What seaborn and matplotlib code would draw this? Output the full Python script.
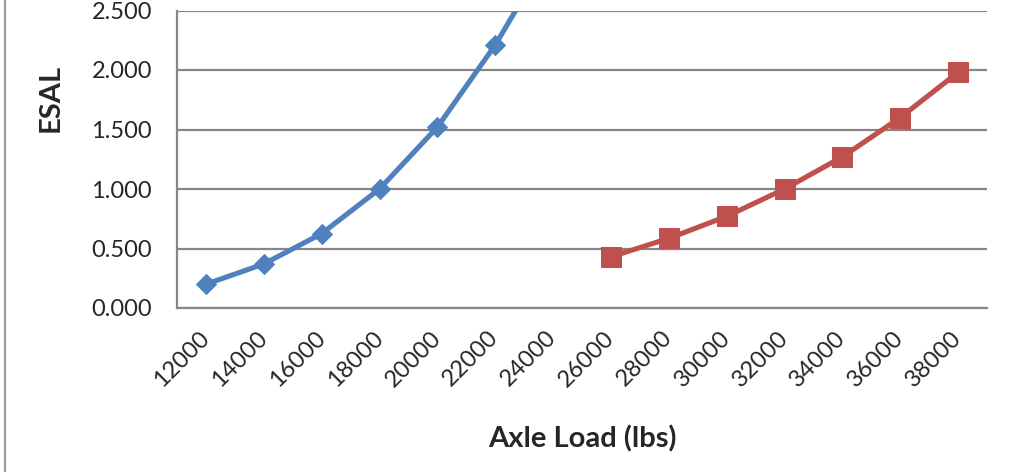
import matplotlib
matplotlib.use("Agg")
import matplotlib.pyplot as plt
from matplotlib.lines import Line2D
import seaborn as sns

# Data (Excel category axis)
categories = ["12000", "14000", "16000", "18000", "20000", "22000", "24000",
              "26000", "28000", "30000", "32000", "34000", "36000", "38000"]
single_idx = [0, 1, 2, 3, 4, 5, 6]
single_esal = [0.20, 0.37, 0.625, 1.00, 1.52, 2.21, 3.03]
tandem_idx = [7, 8, 9, 10, 11, 12, 13]
tandem_esal = [0.43, 0.585, 0.77, 1.00, 1.27, 1.60, 1.98]

sns.set_style("white")
plt.rcParams['font.family'] = ['Lato', 'DejaVu Sans']

fig = plt.figure(figsize=(10.26, 4.72), dpi=100)
ax = fig.add_axes([177/1026, 1 - 308/472, 810/1026, 297.5/472])

grid_c = "#868686"
sns.lineplot(x=single_idx, y=single_esal, ax=ax, color="#4F81BD", lw=3.7,
             marker="D", markersize=10.5, markeredgecolor="#4F81BD")
sns.lineplot(x=tandem_idx, y=tandem_esal, ax=ax, color="#C0504D", lw=3.7,
             marker="s", markersize=14, markeredgecolor="#C0504D")

ax.set_xlim(-0.5, len(categories) - 0.5)
ax.set_ylim(0, 2.5)
ax.set_yticks([0, 0.5, 1.0, 1.5, 2.0, 2.5])
ax.set_yticklabels([f"{v:.3f}" for v in [0, 0.5, 1.0, 1.5, 2.0, 2.5]], fontsize=17)
ax.yaxis.grid(True, color=grid_c, lw=1.6)
ax.set_axisbelow(True)

ax.set_xticks(range(len(categories)))
ax.set_xticklabels(categories, rotation=45, ha="right", va="center",
                   rotation_mode="anchor", fontsize=17)
ax.set_xticks([i - 0.5 for i in range(len(categories) + 1)], minor=True)
ax.tick_params(axis="x", which="major", length=0, pad=19)
ax.tick_params(axis="x", which="minor", length=6, width=1.6, color=grid_c, direction="out")
ax.tick_params(axis="y", length=6, width=1.6, color=grid_c, direction="out", pad=12)

for s in ["top", "right"]:
    ax.spines[s].set_visible(False)
for s in ["left", "bottom"]:
    ax.spines[s].set_color(grid_c)
    ax.spines[s].set_linewidth(1.6)

ax.set_xlabel("Axle Load (lbs)", fontsize=21, fontweight="bold")
ax.set_ylabel("ESAL", fontsize=21, fontweight="bold")
ax.xaxis.set_label_coords(0.5, -0.393)
ax.yaxis.set_label_coords(-0.1395, 0.706)

# page border line on the left
fig.add_artist(Line2D([5/1026, 5/1026], [0, 1], color="#9a9a9a", lw=1.6))

fig.savefig("out.png", dpi=100)
